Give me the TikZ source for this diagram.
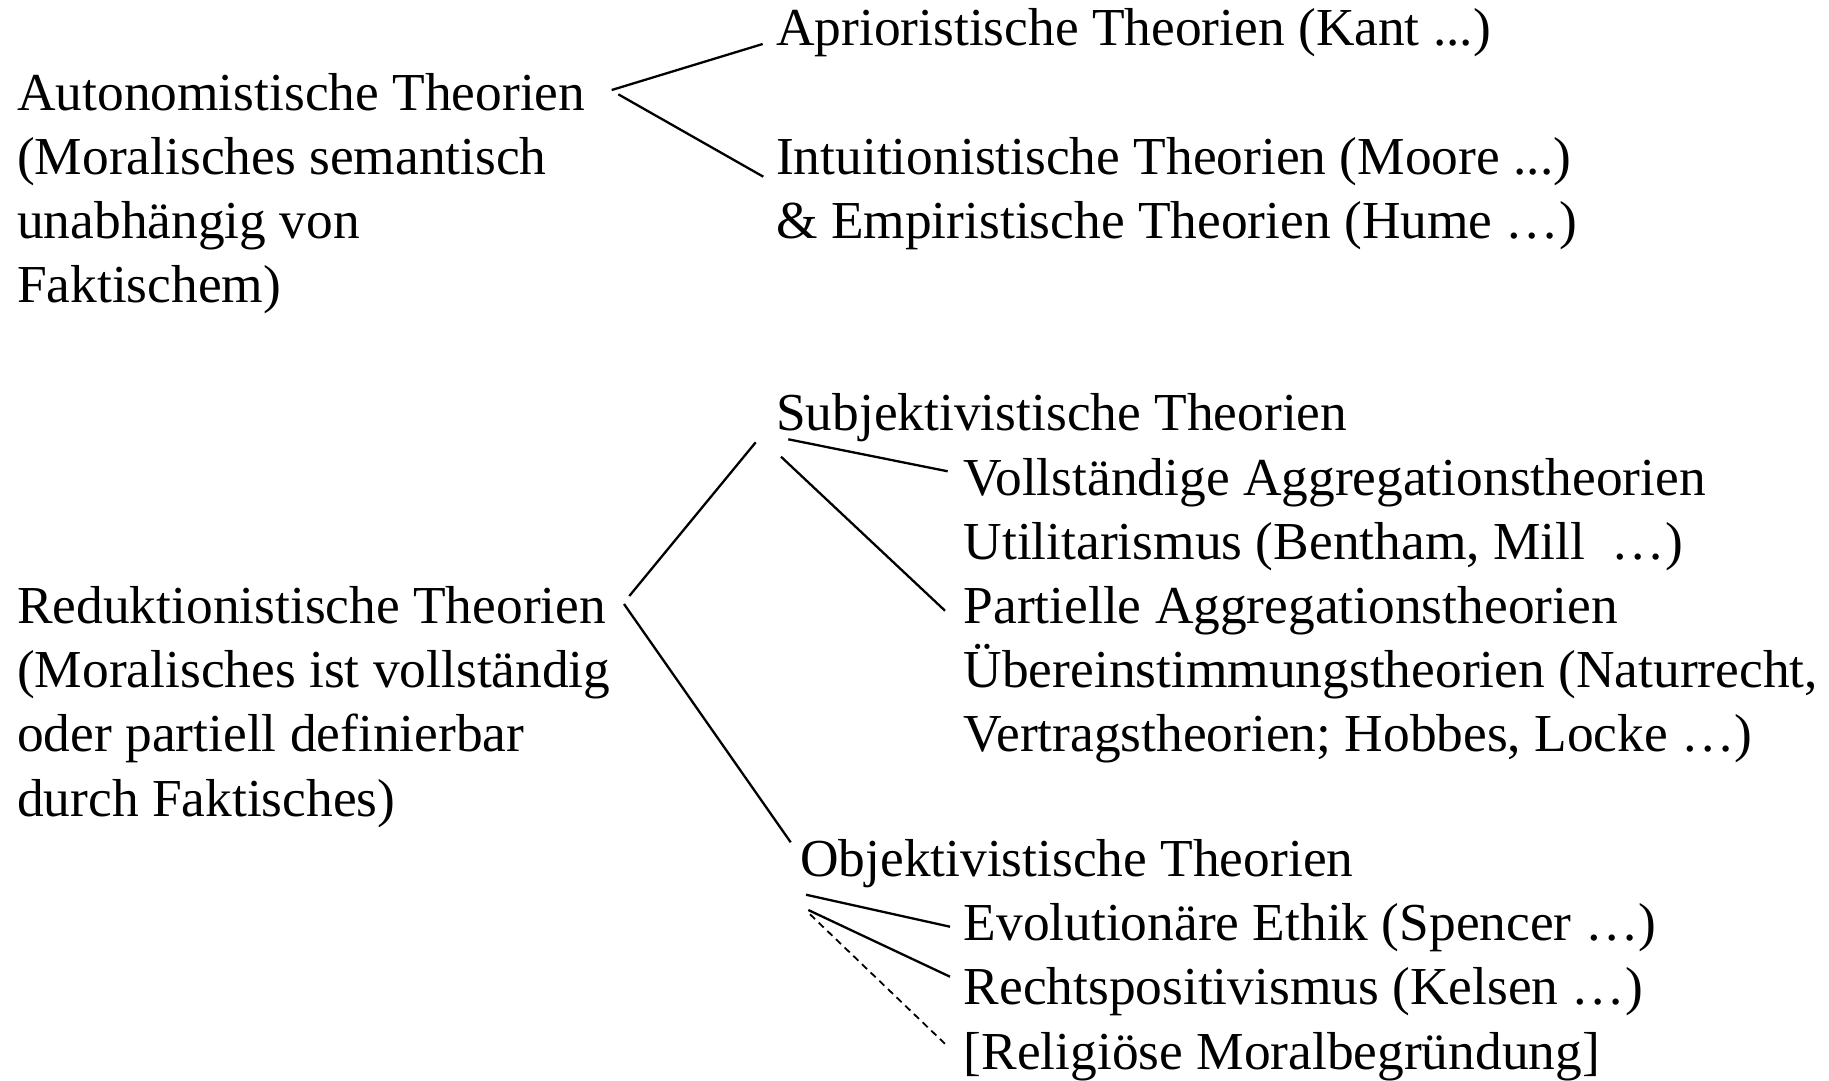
\documentclass[tikz,border=0pt]{standalone}
\usepackage{fontspec}
\setmainfont{Liberation Serif}
\begin{document}
\begin{tikzpicture}[x=1pt,y=-1pt,
  txt/.style={inner sep=0pt, anchor=base west, font=\fontsize{53.4}{64}\selectfont},
  conn/.style={line width=2.3pt},
  dconn/.style={line width=1.8pt, dash pattern=on 7pt off 5pt}]
\path[use as bounding box, fill=white] (0,0) rectangle (1829,1080);
% left blocks
\node[txt] (aut1) at (17,110) {Autonomistische Theorien};
\node[txt] (aut2) at (17,174.2) {(Moralisches semantisch};
\node[txt] (aut3) at (17,238.4) {unabhängig von};
\node[txt] (aut4) at (17,302.6) {Faktischem)};
\node[txt] (red1) at (17,623.4) {Reduktionistische Theorien};
\node[txt] (red2) at (17,687.6) {(Moralisches ist vollständig};
\node[txt] (red3) at (17,751.8) {oder partiell definierbar};
\node[txt] (red4) at (17,816) {durch Faktisches)};
% upper right
\node[txt] (apr) at (776,45.9) {Aprioristische Theorien (Kant ...)};
\node[txt] (int1) at (776,174.2) {Intuitionistische Theorien (Moore ...)};
\node[txt] (int2) at (776,238.4) {\& Empiristische Theorien (Hume …)};
% subjectivist
\node[txt] (subj) at (776,430) {Subjektivistische Theorien};
\node[txt] (voll1) at (963.5,495) {Vollständige Aggregationstheorien};
\node[txt] (voll2) at (963.5,559.2) {Utilitarismus (Bentham, Mill\ \ …)};
\node[txt] (part1) at (963.5,623.4) {Partielle Aggregationstheorien};
\node[txt] (part2) at (963.5,687.6) {Übereinstimmungstheorien (Naturrecht,};
\node[txt] (part3) at (963.5,751.8) {Vertragstheorien; Hobbes, Locke …)};
% objectivist
\node[txt] (obj) at (800,876.5) {Objektivistische Theorien};
\node[txt] (evol) at (963.5,940.7) {Evolutionäre Ethik (Spencer …)};
\node[txt] (rechts) at (963.5,1004.9) {Rechtspositivismus (Kelsen …)};
\node[txt] (rel) at (963.5,1069) {[Religiöse Moralbegründung]};
% connector end points
\coordinate (autA) at (611.7,90);
\coordinate (autB) at (618.3,94.3);
\coordinate (aprE) at (762.7,44);
\coordinate (intE) at (763.3,176.7);
\coordinate (redA) at (629.3,596);
\coordinate (redB) at (624,604);
\coordinate (subjE) at (755.7,442.3);
\coordinate (objE) at (790.7,842.3);
\coordinate (subjA) at (788.3,439.3);
\coordinate (subjB) at (781,456.7);
\coordinate (vollE) at (947.7,471.3);
\coordinate (partE) at (945,610.7);
\coordinate (objA) at (806,894.7);
\coordinate (objB) at (808.3,910);
\coordinate (objC) at (810,914.3);
\coordinate (evolE) at (950,926.7);
\coordinate (rechtsE) at (950,976.7);
\coordinate (relE) at (947.3,1046);
% connectors
\draw[conn] (autA) -- (aprE);
\draw[conn] (autB) -- (intE);
\draw[conn] (redA) -- (subjE);
\draw[conn] (redB) -- (objE);
\draw[conn] (subjA) -- (vollE);
\draw[conn] (subjB) -- (partE);
\draw[conn] (objA) -- (evolE);
\draw[conn] (objB) -- (rechtsE);
\draw[dconn] (objC) -- (relE);
\end{tikzpicture}
\end{document}
